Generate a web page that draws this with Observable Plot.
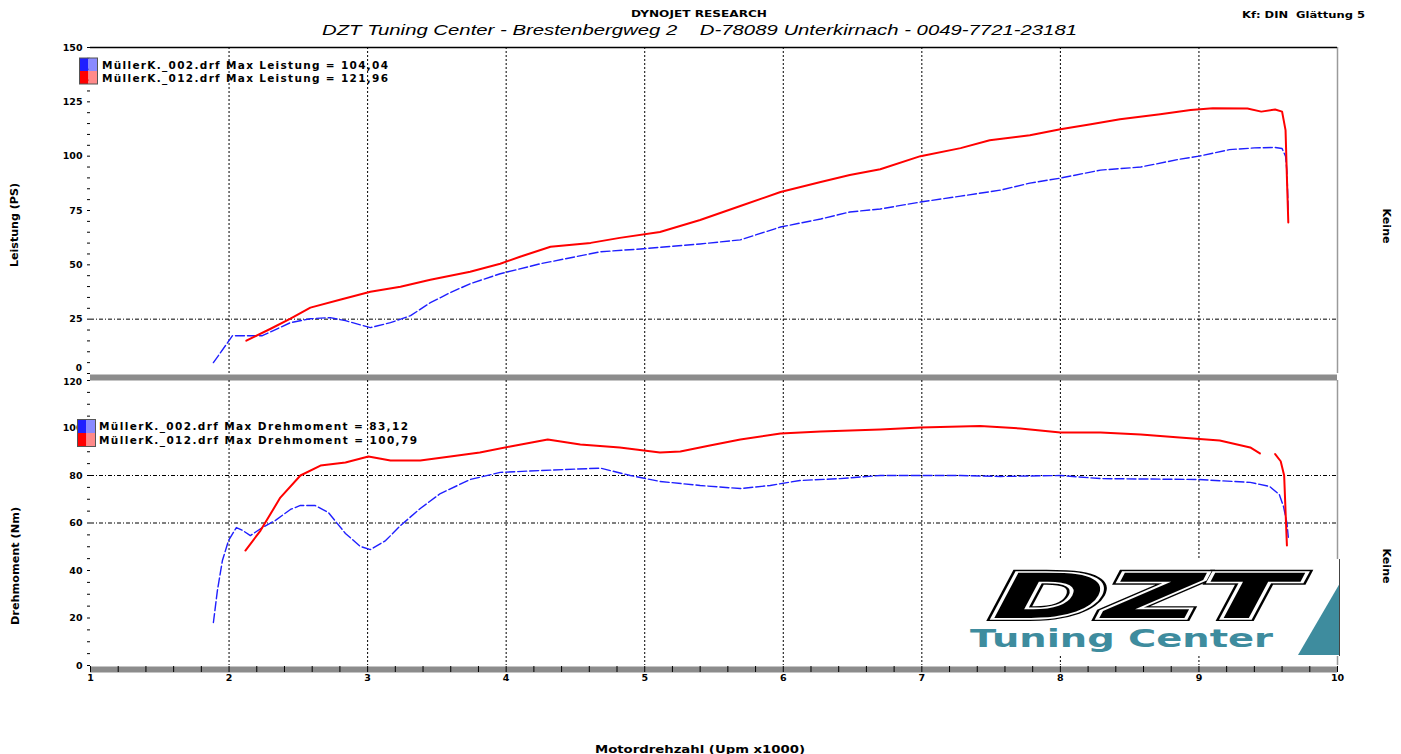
<!DOCTYPE html>
<html><head><meta charset="utf-8">
<script src="https://cdn.jsdelivr.net/npm/d3@7"></script>
<script src="https://cdn.jsdelivr.net/npm/@observablehq/plot@0.6"></script>
<style>
html,body{margin:0;padding:0;background:#fff;}
#wrap{position:relative;width:1401px;height:754px;overflow:hidden;background:#fff;}
#wrap svg{position:absolute;left:0;}
</style></head><body><div id="wrap"></div>
<script>
// ---------- data ----------
const rpmLabels = [1,2,3,4,5,6,7,8,9,10];
const gridRpm = [2,3,4,5,6,7,8,9];
const rpmMinor = d3.range(0, 46).map(i => 1 + i / 5);

const leistungTicks = [0,25,50,75,100,125,150];
const leistungMinor = d3.range(0, 151, 5);
const leistungGrid = [25];
const drehTicks = [0,20,40,60,80,100,120];
const drehMinor = d3.range(0, 121, 5);
const drehGrid = [60, 80];

const files = ["MüllerK._002.drf", "MüllerK._012.drf"];
const maxLeistung = ["104,04", "121,96"];
const maxDreh = ["83,12", "100,79"];

// Leistung (PS) – run 002 (blue)
const l002Rpm = [1.887,2.025,2.24,2.443,2.587,2.73,2.84,3.02,3.165,3.31,3.453,3.597,3.74,3.957,4.247,4.68,4.97,5.40,5.69,5.98,6.27,6.48,6.70,6.99,7.28,7.57,7.78,8.0,8.29,8.58,8.86,9.0,9.22,9.40,9.55,9.60,9.625,9.635,9.645];
const l002 =    [5,17.4,17.4,23.4,25.2,25.7,24.3,21.1,23.4,26.6,32.6,37.2,41.3,45.9,50.5,56,57.3,59.6,61.5,67.4,71.1,74.3,75.7,78.9,81.6,84.4,87.6,89.9,93.6,95,98.6,100,103,103.8,104,103.5,100,93,74];
// Leistung (PS) – run 012 (red)
const l012Rpm = [2.125,2.30,2.443,2.587,2.80,3.02,3.237,3.453,3.74,3.957,4.10,4.32,4.61,4.82,5.11,5.40,5.69,5.98,6.27,6.48,6.70,6.99,7.28,7.49,7.78,8.0,8.22,8.43,8.72,8.94,9.10,9.35,9.45,9.55,9.60,9.625,9.635,9.645];
const l012 =    [15.1,20.6,25.2,30.3,33.9,37.6,39.9,43.1,46.8,50.5,53.7,58.3,60.1,62.4,65.1,70.6,77.1,83.5,88.1,91.3,94,100,103.7,107.3,109.6,112.4,114.7,117,119.3,121.2,122,121.9,120.5,121.5,120.5,112,90,69.5];
// Drehmoment (Nm) – run 002 (blue)
const d002Rpm = [1.887,1.916,1.952,1.996,2.053,2.10,2.154,2.24,2.335,2.443,2.515,2.62,2.717,2.84,2.948,3.02,3.13,3.237,3.38,3.525,3.74,3.957,4.247,4.68,4.896,5.11,5.40,5.69,5.906,6.12,6.41,6.70,7.28,7.57,8.0,8.29,9.0,9.37,9.51,9.58,9.61,9.635,9.645];
const d002 =    [18.1,31.6,44.2,52.6,58.1,56.8,54.7,58.1,61.1,65.7,67.4,67.4,64.4,55.6,50.1,48.8,52.6,58.9,66.1,72.4,78.3,81.3,82.1,83.1,80,77.5,75.8,74.5,75.8,77.9,78.7,80,80,79.6,80,78.7,78.3,77.1,75.4,72,67,60,54];
// Drehmoment (Nm) – run 012 (red)
const d012Rpm = [2.118,2.227,2.37,2.515,2.66,2.84,3.006,3.165,3.38,3.597,3.81,4.03,4.30,4.535,4.82,5.11,5.257,5.47,5.69,5.98,6.27,6.70,6.99,7.42,7.71,8.0,8.29,8.58,8.86,9.15,9.37,9.44,9.50,9.55,9.59,9.615,9.625,9.635];
const d012 =    [48.4,56.8,70.7,80,84.2,85.5,88,86.3,86.3,88,89.7,92.2,95.2,93.1,91.8,89.7,90.1,92.6,95.2,97.7,98.5,99.4,100.2,100.8,99.8,98.1,98.1,97.3,96,94.7,91.8,89.3,NaN,89.0,86,80,65,50.5];

const rows = (xs, ys) => xs.map((r, i) => ({rpm: r, v: ys[i]}));

// ---------- layout ----------
const W = 1401, ML = 90, MR = 64;
const FW = W - ML - MR;
const BLUE = "#1f1fff", RED = "#ff0000", GRAY = "#8c8c8c";
const FONT = "DejaVu Sans";
const txt = {fontFamily: FONT, fontSize: 9.5, fontWeight: "bold", fill: "#000"};

function panel({height, marginTop, marginBottom, domain, ticks, minor, grid, blue, red, topLine, xAxis}) {
  const FH = height - marginTop - marginBottom;
  const lo = domain[0], hi = domain[1];
  const marks = [
    Plot.ruleX(gridRpm, {stroke: "#000", strokeWidth: 1, strokeDasharray: "2,2"}),
    Plot.ruleY(grid, {stroke: "#000", strokeWidth: 1, strokeDasharray: "4,2,1,2"}),
    Plot.ruleX([10], {stroke: "#9a9a9a", strokeWidth: 1.5}),
    Plot.ruleY([lo], {stroke: GRAY, strokeWidth: 6, dy: 4}),
    Plot.ruleY(minor, {insetLeft: -3, insetRight: FW, stroke: "#000", strokeWidth: 1}),
    // tick labels; the end labels are nudged so the 0 of the upper panel and the 120 of the lower one do not collide
    Plot.text(ticks, {y: d => d, frameAnchor: "left", dx: -8, textAnchor: "end", text: d => String(d),
      dy: xAxis ? 0 : 0, ...txt}),
    Plot.line(rows(blue[0], blue[1]), {x: "rpm", y: "v", stroke: BLUE, strokeWidth: 1.4, strokeDasharray: "9,3"}),
    Plot.line(rows(red[0], red[1]), {x: "rpm", y: "v", stroke: RED, strokeWidth: 2})
  ];
  if (topLine) marks.push(Plot.ruleY([hi], {stroke: "#000", strokeWidth: 1.5}));
  if (xAxis) {
    marks.push(Plot.ruleX(rpmMinor, {insetTop: FH + 1, insetBottom: -7, stroke: "#000", strokeWidth: 1}));
    marks.push(Plot.text(rpmLabels, {x: d => d, frameAnchor: "bottom", dy: 15, text: d => String(d), ...txt}));
  }
  return Plot.plot({
    width: W, height, marginLeft: ML, marginRight: MR, marginTop, marginBottom,
    x: {domain: [1, 10], axis: null},
    y: {domain, axis: null},
    style: {background: "transparent", overflow: "visible", fontFamily: FONT},
    marks
  });
}

const wrap = document.getElementById("wrap");
const top1 = panel({height: 390, marginTop: 47, marginBottom: 17, domain: [0, 150],
  ticks: leistungTicks.filter(d => d > 0), minor: leistungMinor, grid: leistungGrid,
  blue: [l002Rpm, l002], red: [l012Rpm, l012], topLine: true, xAxis: false});
top1.style.top = "0px";
wrap.appendChild(top1);

const bot = panel({height: 394, marginTop: 20, marginBottom: 89, domain: [0, 120],
  ticks: drehTicks.filter(d => d < 120), minor: drehMinor, grid: drehGrid,
  blue: [d002Rpm, d002], red: [d012Rpm, d012], topLine: false, xAxis: true});
bot.style.top = "360px";
wrap.appendChild(bot);

// ---------- overlay texts, legends, logo ----------
const ov = d3.select(wrap).append("svg").attr("width", W).attr("height", 754).style("top", "0px")
  .attr("font-family", FONT);

function T(s, x, y, o = {}) {
  const t = ov.append("text").attr("x", x).attr("y", y).text(s)
    .attr("font-size", o.size || 10).attr("font-weight", o.weight || "bold")
    .attr("font-family", o.family || FONT).attr("fill", o.fill || "#000")
    .attr("text-anchor", o.anchor || "start").style("white-space", "pre");
  if (o.style) t.attr("font-style", o.style);
  if (o.len) t.attr("textLength", o.len).attr("lengthAdjust", o.adj || "spacingAndGlyphs");
  if (o.transform) t.attr("transform", o.transform);
  return t;
}

T("DYNOJET RESEARCH", 631, 17, {size: 9, len: 136});
T("DZT Tuning Center - Brestenbergweg 2\u00a0\u00a0\u00a0\u00a0D-78089 Unterkirnach - 0049-7721-23181", 322, 35,
  {size: 15, weight: "normal", style: "italic", family: "Liberation Sans", len: 755});
T("Kf: DIN\u00a0\u00a0Glättung 5", 1242, 18, {size: 9, len: 123});

// end labels of the two stacked y axes (upper 0, lower 120), separated slightly
T(String(leistungTicks[0]), 82, 371, {size: 9, anchor: "end"});
T(String(drehTicks[drehTicks.length - 1]), 82, 385, {size: 9, anchor: "end"});

T("Leistung (PS)", 0, 0, {anchor: "middle", len: 84, transform: "translate(18,225) rotate(-90)"});
T("Drehmoment (Nm)", 0, 0, {anchor: "middle", len: 118, transform: "translate(19,566) rotate(-90)"});
T("Keine", 0, 0, {anchor: "middle", len: 35, transform: "translate(1383,226) rotate(90)"});
T("Keine", 0, 0, {anchor: "middle", len: 35, transform: "translate(1383,566) rotate(90)"});
T("Motordrehzahl (Upm x1000)", 595, 753, {len: 210});

// legends
const sw = [[BLUE, "#8a8aff"], [RED, "#ff8a8a"]];
function legend(x0, y0, rowH, tx, label, values, lens) {
  files.forEach((f, i) => {
    const y = y0 + i * rowH;
    ov.append("rect").attr("x", x0).attr("y", y).attr("width", 9).attr("height", rowH).attr("fill", sw[i][0]);
    ov.append("rect").attr("x", x0 + 9).attr("y", y).attr("width", 9).attr("height", rowH).attr("fill", sw[i][1]);
    T(`${f} ${label} = ${values[i]}`, tx, y + rowH / 2 + 4, {size: 10.5, len: lens[i], adj: "spacing"});
  });
  ov.append("rect").attr("x", x0).attr("y", y0).attr("width", 18).attr("height", rowH * 2)
    .attr("fill", "none").attr("stroke", "#555").attr("stroke-width", 1);
}
legend(79.5, 58, 13, 102, "Max Leistung", maxLeistung, [286, 286]);
legend(77.5, 419.5, 13.5, 99, "Max Drehmoment", maxDreh, [309, 318]);

// logo
const lg = ov.append("g");
lg.append("rect").attr("x", 962).attr("y", 559).attr("width", 378).attr("height", 97).attr("fill", "#fff");
lg.append("path").attr("d", "M1298,655 L1340,583 L1340,655 Z").attr("fill", "#3e8c9e");
lg.append("line").attr("x1", 1339.5).attr("x2", 1339.5).attr("y1", 559).attr("y2", 656).attr("stroke", "#444");
function dzt(stroke, swd, fill) {
  lg.append("text").attr("x", 0).attr("y", 0).text("DZT")
    .attr("transform", "translate(982,618) skewX(-28)")
    .attr("font-family", FONT).attr("font-weight", "bold").attr("font-size", 62)
    .attr("textLength", 300).attr("lengthAdjust", "spacingAndGlyphs")
    .attr("fill", fill).attr("stroke", stroke).attr("stroke-width", swd).attr("stroke-linejoin", "miter");
}
dzt("#000", 6, "#000");
dzt("#fff", 3.4, "#000");
dzt("none", 0, "#000");
lg.append("text").attr("x", 970).attr("y", 647).text("Tuning Center")
  .attr("font-family", FONT).attr("font-weight", "bold").attr("font-size", 24)
  .attr("fill", "#3e8c9e").attr("textLength", 303).attr("lengthAdjust", "spacingAndGlyphs");
</script></body></html>
